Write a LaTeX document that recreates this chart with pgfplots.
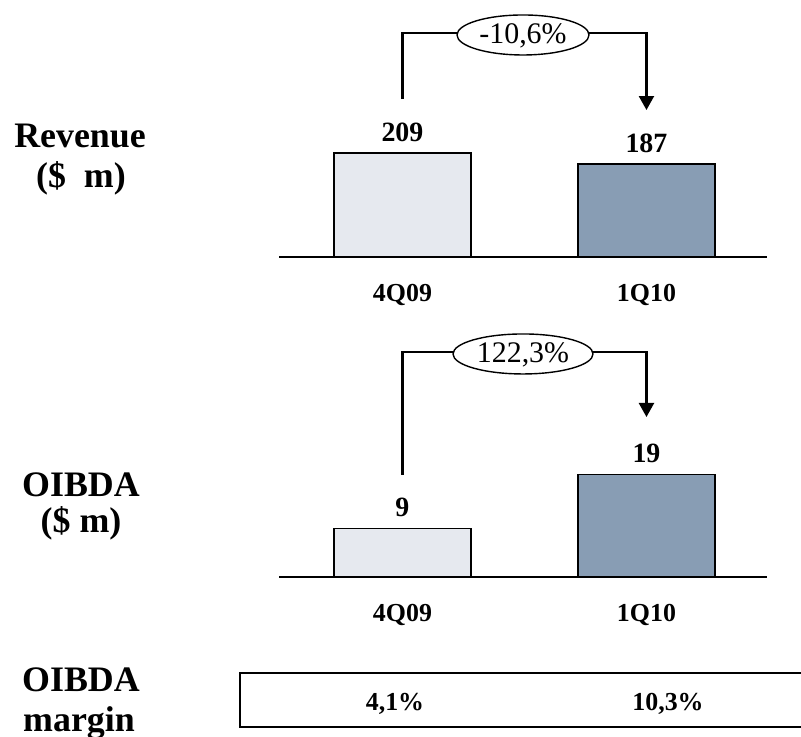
\documentclass[border=0pt]{standalone}
\usepackage{pgfplots}
\pgfplotsset{compat=1.18}
\usepackage{fontspec}
\setmainfont{Liberation Serif}
\usetikzlibrary{arrows.meta}
\definecolor{barlight}{RGB}{230,233,239}
\definecolor{bardark}{RGB}{136,157,180}
\tikzset{
  bracket/.style={line width=2.3bp},
  pct/.style={inner sep=0pt, font=\fontsize{30}{30}\selectfont},
}
\pgfplotsset{
  barstyle/.style={
    scale only axis, width=488bp, height=257bp,
    xmin=-0.506, xmax=1.494, ymin=0,
    axis x line=bottom, axis y line=none,
    x axis line style={-, line width=1.4bp},
    xtick={0,1}, xticklabels={4Q09,1Q10},
    major tick length=0pt,
    xticklabel style={anchor=base, inner sep=0pt, yshift=-45bp, font=\fontsize{26}{26}\selectfont\bfseries},
    ytick=\empty,
    clip=false,
    /pgf/number format/assume math mode=true,
    nodes near coords,
    every node near coord/.append style={anchor=south, inner sep=0pt, yshift=11bp, font=\fontsize{28}{28}\selectfont\bfseries},
  },
}
\begin{document}
\begin{tikzpicture}
\useasboundingbox (0bp,0bp) rectangle (801bp,737bp);

% Revenue
\begin{axis}[barstyle, at={(279bp,480bp)}, anchor=south west, ymax=516.5]
\addplot[ybar, bar width=0.5615, bar shift=0pt, fill=barlight, draw=black, line width=1.3bp] coordinates {(0,209)};
\addplot[ybar, bar width=0.5615, bar shift=0pt, fill=bardark, draw=black, line width=1.3bp] coordinates {(1,187)};
\draw[bracket] (axis cs:0,317.5) |- (axis cs:0.494,450.2);
\draw[bracket, -{Triangle[width=15bp,length=14bp]}] (axis cs:0.494,450.2) -| (axis cs:1,295.4);
\draw[line width=1.4bp, fill=white] ([yshift=-2bp]axis cs:0.494,450.2) ellipse [x radius=66bp, y radius=20bp];
\node[pct, anchor=base] at ([yshift=-11bp]axis cs:0.494,450.2) {-10,6\%};
\end{axis}

% OIBDA
\begin{axis}[barstyle, at={(279bp,160bp)}, anchor=south west, ymax=47.59]
\addplot[ybar, bar width=0.5615, bar shift=0pt, fill=barlight, draw=black, line width=1.3bp] coordinates {(0,9)};
\addplot[ybar, bar width=0.5615, bar shift=0pt, fill=bardark, draw=black, line width=1.3bp] coordinates {(1,19)};
\draw[bracket] (axis cs:0,18.89) |- (axis cs:0.494,41.67);
\draw[bracket, -{Triangle[width=15bp,length=14bp]}] (axis cs:0.494,41.67) -| (axis cs:1,29.63);
\draw[line width=1.4bp, fill=white] ([yshift=-2bp]axis cs:0.494,41.67) ellipse [x radius=70bp, y radius=20bp];
\node[pct, anchor=base] at ([yshift=-11bp]axis cs:0.494,41.67) {122,3\%};
\end{axis}

% Left labels
\begin{scope}[every node/.style={anchor=base, inner sep=0pt, font=\fontsize{36}{36}\selectfont\bfseries}]
\node at (80bp,589bp) {Revenue};
\node at (81bp,549bp) {(\$\ \ m)};
\node at (81bp,240bp) {OIBDA};
\node at (81bp,204bp) {(\$ m)};
\node at (81bp,45bp) {OIBDA};
\node at (79bp,6bp) {margin};
\end{scope}

% Margin row
\draw[line width=1.8bp] (240bp,10bp) rectangle (805bp,64bp);
\node[anchor=base, inner sep=0pt, font=\fontsize{26}{26}\selectfont\bfseries] at (395bp,27bp) {4,1\%};
\node[anchor=base, inner sep=0pt, font=\fontsize{26}{26}\selectfont\bfseries] at (668bp,27bp) {10,3\%};
\end{tikzpicture}
\end{document}
